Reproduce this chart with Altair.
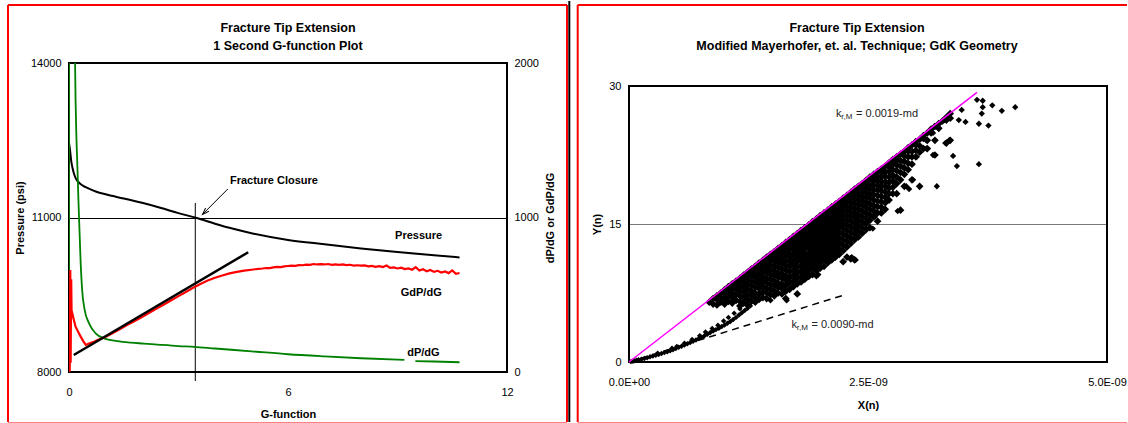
import altair as alt
import pandas as pd

FONT = "Liberation Sans"
E9 = 1e-9

# ---------------- left panel: G-function plot ----------------
P_G = [0, 0.03, 0.06, 0.1, 0.15, 0.2, 0.3, 0.4, 0.5, 0.75, 1.0, 1.5, 2.0, 2.5, 3.0,
       3.5, 4.0, 4.5, 5.0, 6.0, 7.0, 8.0, 9.0, 10.0, 10.7]
P_V = [12450, 12300, 12100, 11950, 11820, 11740, 11660, 11610, 11575, 11500, 11450,
       11370, 11285, 11190, 11085, 10990, 10880, 10780, 10695, 10565, 10480, 10400,
       10330, 10265, 10225]

DPDG_G = [0.0, 0.01, 0.15, 0.18, 0.2, 0.23, 0.26, 0.29, 0.32, 0.36, 0.43, 0.55, 0.73,
          0.96, 1.32, 1.69, 2.05, 2.5, 3.0, 3.43, 4.0, 5.0, 6.0, 7.0, 8.0, 9.19,
          9.49, 10.0, 10.7]
DPDG_V = [466, 6000, 2300, 1760, 1545, 1329, 1100, 900, 703, 531, 401, 315, 250,
          218, 200, 190, 184, 176, 168, 163, 152, 134, 115, 101, 89, 78,
          71, 68, 63]

GDPDG_G = [0.0, 0.02, 0.035, 0.045, 0.06, 0.07, 0.09, 0.13, 0.18, 0.25,
           0.32, 0.39, 0.46, 0.55, 0.68, 0.82, 0.96, 1.1, 1.25, 1.4,
           1.6, 1.8, 2.0, 2.2, 2.4, 2.6, 2.8, 3.0, 3.2, 3.4,
           3.6, 3.8, 4.0, 4.2, 4.4, 4.6, 4.8, 5.0,
           5.1, 5.2, 5.3, 5.4, 5.5, 5.6, 5.7, 5.8, 5.9, 6.0,
           6.1, 6.2, 6.3, 6.4, 6.5, 6.6, 6.7, 6.8, 6.9, 7.0,
           7.1, 7.2, 7.3, 7.4, 7.5, 7.6, 7.7, 7.8, 7.9, 8.0,
           8.1, 8.2, 8.3, 8.4, 8.5, 8.6, 8.7, 8.8, 8.9, 9.0,
           9.1, 9.2, 9.3, 9.4, 9.5, 9.6, 9.7, 9.8, 9.9, 10.0,
           10.1, 10.2, 10.3, 10.4, 10.5, 10.6, 10.7]
GDPDG_V = [0, 10, 660, 60, 600, 400, 380, 340, 293, 260,
           229, 200, 175, 185, 196, 210, 224, 240, 258, 278,
           305, 330, 356, 383, 410, 437, 464, 491, 518, 545,
           570, 592, 610, 625, 638, 648, 656, 662,
           665, 668, 670, 673, 672, 677, 680, 679, 684, 686,
           688, 687, 692, 691, 695, 693, 699, 696, 698, 696,
           699, 694, 697, 694, 696, 692, 694, 689, 691, 688,
           690, 684, 687, 681, 685, 679, 689, 674, 677, 670,
           675, 666, 670, 662, 679, 657, 665, 652, 660, 648,
           655, 644, 651, 640, 658, 636, 641]

TAN_G = [0.13, 4.91]
TAN_V = [110, 775]

CLOSURE_G = 3.46
CLOSURE_P = [7825, 11282]
ARROW_G = [4.35, 3.66]
ARROW_P = [11553, 11062]

LBL_TEXT = ["Pressure", "GdP/dG", "dP/dG"]
LBL_G = [9.58, 9.65, 9.71]
LBL_P = [10641, 9528, 8375]
CLOSURE_TEXT = "Fracture Closure"
CLOSURE_TEXT_G = 4.41
CLOSURE_TEXT_P = 11709

# ---------------- right panel: Mayerhofer plot (X in units of 1e-9) ----------------
BRANCH = [(0.02, 0.04), (0.04, 0.09), (0.06, 0.14), (0.08, 0.19), (0.10, 0.24),
          (0.13, 0.31), (0.16, 0.39), (0.19, 0.47), (0.22, 0.56), (0.25, 0.64),
          (0.28, 0.73), (0.31, 0.82), (0.34, 0.92), (0.37, 1.02), (0.40, 1.12),
          (0.43, 1.22), (0.46, 1.34), (0.49, 1.46), (0.52, 1.60), (0.55, 1.72),
          (0.58, 1.85), (0.61, 1.98), (0.64, 2.12), (0.67, 2.26), (0.70, 2.40),
          (0.73, 2.55), (0.76, 2.70), (0.79, 2.86), (0.82, 3.02), (0.85, 3.20),
          (0.88, 3.36), (0.91, 3.52), (0.94, 3.68), (0.97, 3.85), (1.00, 4.02),
          (1.03, 4.20), (1.06, 4.40), (1.09, 4.62), (1.12, 4.85), (1.15, 5.10),
          (1.18, 5.35), (1.21, 5.60), (1.24, 5.85), (1.27, 6.10),
          (0.30, 0.95), (0.45, 1.50), (0.50, 1.68), (0.58, 2.05), (0.66, 2.45),
          (0.74, 2.85), (0.80, 3.25), (0.87, 3.65), (0.93, 4.00), (0.99, 4.45),
          (1.04, 4.85), (1.10, 5.30), (1.16, 5.80), (1.22, 6.30), (1.28, 6.70)]

CLOUD_COLUMNS = [
    (0.84, [6.5]),
    (0.88, [6.3, 6.9]),
    (0.92, [6.2, 6.8, 7.2]),
    (0.96, [6.5, 7.0, 7.5]),
    (1.00, [6.3, 6.9, 7.4, 7.85]),
    (1.04, [6.6, 7.2, 7.7, 8.2]),
    (1.08, [6.4, 7.0, 7.5, 8.0, 8.5]),
    (1.12, [6.7, 7.3, 7.9, 8.4, 8.8]),
    (1.16, [6.1, 6.6, 7.2, 7.7, 8.2, 8.7, 9.1]),
    (1.20, [6.4, 7.0, 7.6, 8.1, 8.6, 9.0, 9.45]),
    (1.24, [6.2, 6.8, 7.3, 7.9, 8.4, 8.9, 9.4, 9.75]),
    (1.28, [6.6, 7.2, 7.7, 8.3, 8.8, 9.3, 9.7, 10.1]),
    (1.32, [6.5, 7.0, 7.5, 8.1, 8.7, 9.2, 9.6, 10.0, 10.4]),
    (1.36, [6.8, 7.4, 8.0, 8.5, 9.0, 9.5, 10.0, 10.4, 10.75]),
    (1.40, [7.0, 7.6, 8.2, 8.8, 9.3, 9.8, 10.3, 10.7, 11.05]),
    (1.44, [6.9, 7.5, 8.0, 8.6, 9.1, 9.7, 10.2, 10.6, 11.0, 11.4]),
    (1.48, [7.3, 7.9, 8.4, 9.0, 9.5, 10.0, 10.5, 11.0, 11.4, 11.7]),
    (1.52, [7.2, 7.7, 8.3, 8.8, 9.4, 9.9, 10.4, 10.9, 11.3, 11.7, 12.0]),
    (1.56, [7.5, 8.1, 8.6, 9.2, 9.7, 10.3, 10.8, 11.2, 11.6, 12.0, 12.35]),
    (1.60, [7.4, 8.0, 8.5, 9.1, 9.6, 10.1, 10.7, 11.1, 11.6, 12.0, 12.35, 12.65]),
    (1.64, [6.9, 7.7, 8.3, 8.9, 9.4, 10.0, 10.5, 11.0, 11.5, 11.9, 12.3, 12.7, 13.0]),
    (1.68, [7.9, 8.6, 9.2, 9.8, 10.4, 10.9, 11.4, 11.8, 12.3, 12.7, 13.0, 13.3]),
    (1.72, [8.2, 8.8, 9.4, 10.0, 10.6, 11.2, 11.7, 12.2, 12.6, 13.0, 13.4, 13.65]),
    (1.76, [7.4, 8.5, 9.1, 9.7, 10.3, 10.9, 11.4, 11.9, 12.4, 12.9, 13.3, 13.65, 13.95]),
    (1.80, [8.7, 9.3, 9.9, 10.5, 11.1, 11.7, 12.2, 12.7, 13.2, 13.6, 14.0, 14.3]),
    (1.84, [9.0, 9.6, 10.2, 10.8, 11.4, 11.9, 12.5, 13.0, 13.5, 13.9, 14.3, 14.6]),
    (1.88, [9.3, 9.9, 10.5, 11.1, 11.7, 12.3, 12.8, 13.3, 13.8, 14.2, 14.6, 14.9]),
    (1.92, [9.5, 10.2, 10.8, 11.4, 12.0, 12.6, 13.1, 13.6, 14.1, 14.6, 15.0, 15.25]),
    (1.96, [9.4, 9.9, 10.5, 11.1, 11.7, 12.3, 12.9, 13.4, 13.9, 14.4, 14.9, 15.3, 15.55]),
    (2.00, [10.2, 10.8, 11.4, 12.0, 12.6, 13.2, 13.7, 14.2, 14.7, 15.2, 15.6, 15.9]),
    (2.04, [10.4, 11.1, 11.7, 12.3, 12.9, 13.5, 14.0, 14.5, 15.0, 15.5, 15.9, 16.2]),
    (2.08, [10.8, 11.4, 12.0, 12.6, 13.2, 13.8, 14.3, 14.8, 15.3, 15.8, 16.2, 16.5]),
    (2.12, [11.1, 11.7, 12.3, 12.9, 13.5, 14.1, 14.6, 15.1, 15.6, 16.1, 16.5, 16.85]),
    (2.16, [11.4, 12.0, 12.6, 13.2, 13.8, 14.4, 14.9, 15.4, 15.9, 16.4, 16.8, 17.15]),
    (2.20, [11.7, 12.3, 12.9, 13.5, 14.1, 14.7, 15.2, 15.7, 16.2, 16.7, 17.1, 17.45]),
    (2.24, [10.9, 12.1, 12.7, 13.3, 13.9, 14.5, 15.0, 15.5, 16.0, 16.5, 17.0, 17.4, 17.8]),
    (2.28, [11.4, 12.5, 13.1, 13.7, 14.3, 14.9, 15.4, 15.9, 16.4, 16.9, 17.4, 17.8, 18.1]),
    (2.32, [11.2, 12.9, 13.5, 14.1, 14.7, 15.3, 15.8, 16.3, 16.8, 17.3, 17.8, 18.2, 18.45]),
    (2.36, [11.1, 13.3, 13.9, 14.5, 15.1, 15.7, 16.2, 16.7, 17.2, 17.7, 18.1, 18.5, 18.8]),
    (2.40, [13.6, 14.2, 14.8, 15.4, 16.0, 16.6, 17.1, 17.6, 18.1, 18.6, 19.1]),
    (2.44, [14.0, 14.6, 15.2, 15.8, 16.4, 17.0, 17.5, 18.0, 18.5, 19.0, 19.4]),
    (2.48, [14.4, 15.0, 15.6, 16.2, 16.8, 17.4, 17.9, 18.4, 18.9, 19.4, 19.75]),
    (2.52, [14.6, 15.4, 16.0, 16.6, 17.2, 17.8, 18.3, 18.8, 19.3, 19.8, 20.1]),
    (2.56, [15.8, 16.4, 17.0, 17.6, 18.2, 18.7, 19.2, 19.7, 20.1, 20.4]),
    (2.60, [15.3, 16.2, 16.9, 17.5, 18.1, 18.7, 19.2, 19.7, 20.2, 20.7]),
    (2.64, [16.2, 16.8, 17.4, 18.0, 18.6, 19.1, 19.6, 20.1, 20.6, 21.0]),
    (2.68, [16.6, 17.3, 17.9, 18.5, 19.1, 19.6, 20.2, 20.7, 21.3]),
    (2.72, [17.6, 18.3, 18.9, 19.5, 20.1, 20.7, 21.2, 21.65]),
    (2.76, [18.3, 19.0, 19.7, 20.3, 20.9, 21.5, 22.0]),
    (2.80, [18.3, 19.4, 20.1, 20.8, 21.4, 21.9, 22.3]),
    (2.84, [16.5, 19.8, 20.6, 21.3, 21.9, 22.6]),
    (2.88, [19.1, 20.4, 21.1, 21.8, 22.4, 22.9]),
    (2.92, [20.9, 21.6, 22.3, 22.9, 23.3]),
    (2.96, [19.8, 21.5, 22.3, 22.9, 23.6]),
    (3.00, [22.3, 23.0, 23.6, 23.95]),
    (3.04, [19.1, 22.8, 23.5, 24.2]),
    (3.08, [23.2, 24.3, 24.6]),
    (3.12, [23.2, 24.1, 24.9]),
    (3.16, [24.9, 25.3]),
    (3.20, [22.5, 24.1, 25.6]),
    (3.24, [25.4, 25.9]),
    (3.28, [26.2]),
    (3.32, [23.8, 26.3, 26.6]),
    (3.36, [24.1, 26.5, 27.0]),
]

OUTLIERS = [(3.22, 19.1), (2.93, 18.8), (3.39, 22.4), (3.43, 21.3), (3.66, 21.5),
            (3.52, 26.1), (3.48, 27.4), (3.64, 28.5), (3.70, 28.4), (3.80, 27.9),
            (3.90, 27.3), (4.04, 27.7), (3.70, 27.7), (3.69, 27.0), (3.66, 25.9),
            (3.76, 25.7), (3.01, 22.3), (3.18, 22.5), (3.11, 23.2), (2.87, 21.8),
            (2.97, 19.8), (2.90, 19.1), (2.70, 17.6), (2.59, 16.9), (2.57, 15.8),
            (2.49, 15.3), (3.18, 24.9), (3.30, 26.3), (3.24, 25.4), (3.11, 24.1),
            (3.06, 24.3), (1.98, 9.5), (1.88, 9.3), (1.65, 6.7), (1.48, 6.7),
            (2.37, 11.1), (2.33, 11.4), (2.55, 14.5), (2.63, 16.2), (2.81, 16.4),
            (3.35, 24.1), (3.31, 23.8), (3.45, 26.3)]

MAG_X = [0.0, 3.64]
MAG_Y = [0.0, 29.3]
DASH_X = [0.0, 2.27]
DASH_Y = [0.0, 7.35]

K_X = [2.165, 1.70]
K_Y = [26.96, 4.02]
K_VAL = ["= 0.0019-md", "= 0.0090-md"]

# ---------------- tables ----------------
ONE = pd.DataFrame({"k": [0]})
df_p = pd.DataFrame({"G": P_G, "P": P_V})
df_d = pd.DataFrame({"G": DPDG_G, "V": DPDG_V})
df_d["seg"] = (df_d["G"] > 9.3).astype(int)
df_r = pd.DataFrame({"G": GDPDG_G, "V": GDPDG_V})
df_t = pd.DataFrame({"G": TAN_G, "V": TAN_V})
df_cl = pd.DataFrame({"G": [CLOSURE_G], "P0": [CLOSURE_P[0]], "P1": [CLOSURE_P[1]]})
df_ar = pd.DataFrame({"G": ARROW_G, "P": ARROW_P})
df_head = pd.DataFrame({"G": [ARROW_G[1]], "P": [ARROW_P[1]]})
df_lbl = pd.DataFrame({"G": LBL_G, "P": LBL_P, "T": LBL_TEXT})
df_cl_lbl = pd.DataFrame({"G": [CLOSURE_TEXT_G], "P": [CLOSURE_TEXT_P], "T": [CLOSURE_TEXT]})

cloud_pts = [(x, y) for x, ys in CLOUD_COLUMNS for y in ys]
df_cloud = pd.DataFrame({"X": [p[0] * E9 for p in cloud_pts], "Y": [p[1] for p in cloud_pts]})
df_branch = pd.DataFrame({"X": [p[0] * E9 for p in BRANCH], "Y": [p[1] for p in BRANCH]})
df_out = pd.DataFrame({"X": [p[0] * E9 for p in OUTLIERS], "Y": [p[1] for p in OUTLIERS]})
df_mag = pd.DataFrame({"X": [v * E9 for v in MAG_X], "Y": MAG_Y})
df_dash = pd.DataFrame({"X": [v * E9 for v in DASH_X], "Y": DASH_Y})
df_k = pd.DataFrame({"X": [v * E9 for v in K_X], "Y": K_Y, "T": K_VAL})


# ---------------- helpers ----------------
def ax(**kw):
    base = dict(labelFont=FONT, titleFont=FONT, labelFontSize=11, titleFontSize=11,
                titleFontWeight="bold", labelColor="black", titleColor="black",
                ticks=False, domain=False, labelFlush=False, grid=False)
    base.update(kw)
    return alt.Axis(**base)


def hrule(x1, x2, y, color, w):
    return alt.Chart(ONE).mark_rule(color=color, strokeWidth=w).encode(
        x=alt.value(x1), x2=alt.value(x2), y=alt.value(y))


def vrule(x, y1, y2, color, w):
    return alt.Chart(ONE).mark_rule(color=color, strokeWidth=w).encode(
        x=alt.value(x), y=alt.value(y1), y2=alt.value(y2))


def title_text(txt, x, y):
    return alt.Chart(ONE).mark_text(text=txt, font=FONT, fontSize=12.5, fontWeight="bold",
                                    color="black", align="center", baseline="middle").encode(
        x=alt.value(x), y=alt.value(y))


RED = "#ff0000"

# ---------------- left chart ----------------
xs = alt.Scale(domain=[0, 12], nice=False, zero=False)
ps = alt.Scale(domain=[8000, 14000], nice=False, zero=False)
ds = alt.Scale(domain=[0, 2000], nice=False, zero=False)

x_axis_l = ax(values=[0, 6, 12], title="G-function", labelPadding=14, titlePadding=11)
p_axis = ax(orient="left", values=[8000, 11000, 14000], format="d", title="Pressure (psi)",
            grid=True, gridColor="black", gridWidth=1, labelPadding=8, titlePadding=5)
d_axis = ax(orient="right", values=[0, 1000, 2000], format="d", title="dP/dG or GdP/dG",
            titleAngle=270, titleBaseline="top", labelPadding=7, titlePadding=6)

pres = alt.Chart(df_p).mark_line(color="black", strokeWidth=2, interpolate="monotone").encode(
    x=alt.X("G:Q", scale=xs, axis=x_axis_l), y=alt.Y("P:Q", scale=ps, axis=p_axis))

border_l = alt.Chart(ONE).mark_rect(fillOpacity=0, stroke="black", strokeWidth=2).encode(
    x=alt.XDatum(0, type="quantitative", scale=xs), x2=alt.X2Datum(12),
    y=alt.YDatum(8000, type="quantitative", scale=ps), y2=alt.Y2Datum(14000))

closure = alt.Chart(df_cl).mark_rule(color="black", strokeWidth=1).encode(
    x=alt.X("G:Q", scale=xs), y=alt.Y("P0:Q", scale=ps), y2="P1:Q")

arrow = alt.Chart(df_ar).mark_line(color="black", strokeWidth=1).encode(
    x=alt.X("G:Q", scale=xs), y=alt.Y("P:Q", scale=ps))

head = alt.Chart(df_head).mark_point(shape="M-0.7,1L0,-1L0.7,1", filled=False, strokeWidth=1,
                                     size=45, angle=225, color="black", opacity=1,
                                     xOffset=2.3, yOffset=-2.3).encode(
    x=alt.X("G:Q", scale=xs), y=alt.Y("P:Q", scale=ps))

annot = alt.Chart(df_lbl).mark_text(font=FONT, fontSize=11, fontWeight="bold", color="black",
                                    align="center", baseline="middle").encode(
    x=alt.X("G:Q", scale=xs), y=alt.Y("P:Q", scale=ps), text="T:N")

cl_lbl = alt.Chart(df_cl_lbl).mark_text(font=FONT, fontSize=11, fontWeight="bold", color="black",
                                        align="left", baseline="middle").encode(
    x=alt.X("G:Q", scale=xs), y=alt.Y("P:Q", scale=ps), text="T:N")

anchor_l = alt.Chart(ONE).mark_rule(opacity=0).encode(
    x=alt.value(-69), y=alt.value(-63), y2=alt.value(-60))

frame_l = [
    hrule(-61, 498, -58, RED, 2),
    vrule(-61, -58, 359, RED, 2),
    vrule(498, -58, 359, RED, 2),
    hrule(-61, 498, 359.5, "#ff8080", 1),
]

titles_l = [title_text("Fracture Tip Extension", 219, -34.7),
            title_text("1 Second G-function Plot", 219, -17)]

green = alt.Chart(df_d).mark_line(color="#008000", strokeWidth=1.8, interpolate="monotone",
                                  clip=True).encode(
    x=alt.X("G:Q", scale=xs), y=alt.Y("V:Q", scale=ds, axis=d_axis), detail="seg:N")

red = alt.Chart(df_r).mark_line(color=RED, strokeWidth=2.2, clip=True).encode(
    x=alt.X("G:Q", scale=xs), y=alt.Y("V:Q", scale=ds))

tangent = alt.Chart(df_t).mark_line(color="black", strokeWidth=2.5).encode(
    x=alt.X("G:Q", scale=xs), y=alt.Y("V:Q", scale=ds))

left_p = alt.layer(pres, border_l, closure, arrow, head, annot, cl_lbl, anchor_l,
                   *frame_l, *titles_l)
left_d = alt.layer(green, red, tangent)
left = alt.layer(left_p, left_d).resolve_scale(y="independent").properties(width=438, height=309)

# ---------------- right chart ----------------
xr = alt.Scale(domain=[0, 5e-9], nice=False, zero=False)
yr = alt.Scale(domain=[0, 30], range=[299, 23], nice=False, zero=False)

x_axis_r = ax(values=[0, 2.5e-9, 5e-9], title="X(n)", labelPadding=14, titlePadding=12,
              labelExpr="datum.value == 0 ? '0.0E+00' : format(datum.value * 1e9, '.1f') + 'E-09'")
y_axis_r = ax(values=[0, 15, 30], title="Y(n)", grid=True, gridColor="#7a7a7a", gridWidth=1,
              labelPadding=8, titlePadding=6)

cloud = alt.Chart(df_cloud).mark_point(shape="diamond", filled=True, size=60, color="black",
                                       opacity=1).encode(
    x=alt.X("X:Q", scale=xr, axis=x_axis_r), y=alt.Y("Y:Q", scale=yr, axis=y_axis_r))

branch = alt.Chart(df_branch).mark_point(shape="diamond", filled=True, size=30, color="black",
                                         opacity=1).encode(
    x=alt.X("X:Q", scale=xr), y=alt.Y("Y:Q", scale=yr))

outl = alt.Chart(df_out).mark_point(shape="diamond", filled=True, size=40, color="black",
                                    opacity=1).encode(
    x=alt.X("X:Q", scale=xr), y=alt.Y("Y:Q", scale=yr))

border_r = alt.Chart(ONE).mark_rect(fillOpacity=0, stroke="black", strokeWidth=2).encode(
    x=alt.XDatum(0, type="quantitative", scale=xr), x2=alt.X2Datum(5e-9),
    y=alt.YDatum(0, type="quantitative", scale=yr), y2=alt.Y2Datum(30))

dash = alt.Chart(df_dash).mark_line(color="black", strokeWidth=1.5, strokeDash=[7, 5]).encode(
    x=alt.X("X:Q", scale=xr), y=alt.Y("Y:Q", scale=yr))

mag = alt.Chart(df_mag).mark_line(color="#ff00ff", strokeWidth=1.5).encode(
    x=alt.X("X:Q", scale=xr), y=alt.Y("Y:Q", scale=yr))

kbase = alt.Chart(df_k).encode(x=alt.X("X:Q", scale=xr), y=alt.Y("Y:Q", scale=yr))
k_main = kbase.mark_text(text="k", font=FONT, fontSize=11, color="#222222", align="left",
                         baseline="middle")
k_sub = kbase.mark_text(text="r,M", font=FONT, fontSize=8, color="#222222", align="left",
                        baseline="middle", dx=5.3, dy=3)
k_val = kbase.mark_text(font=FONT, fontSize=11, color="#222222", align="left",
                        baseline="middle", dx=20).encode(text="T:N")

frame_r = [
    hrule(-51.3, 498, -58, RED, 2),
    vrule(-51.3, -58, 359, RED, 2),
    hrule(-51.3, 498, 359.5, "#ff8080", 1),
    vrule(-59.7, -62, 359, "black", 2),
]
titles_r = [title_text("Fracture Tip Extension", 228, -34.7),
            title_text("Modified Mayerhofer, et. al. Technique; GdK Geometry", 228, -17)]

right = alt.layer(cloud, border_r, dash, branch, outl, mag, k_main, k_sub, k_val,
                  *frame_r, *titles_r).properties(width=478, height=299)

chart = alt.hconcat(left, right, spacing=0).properties(padding=0, background="white"
                                                       ).configure_view(strokeWidth=0)

chart.save("out.html", embed_options={"renderer": "svg", "actions": False})
